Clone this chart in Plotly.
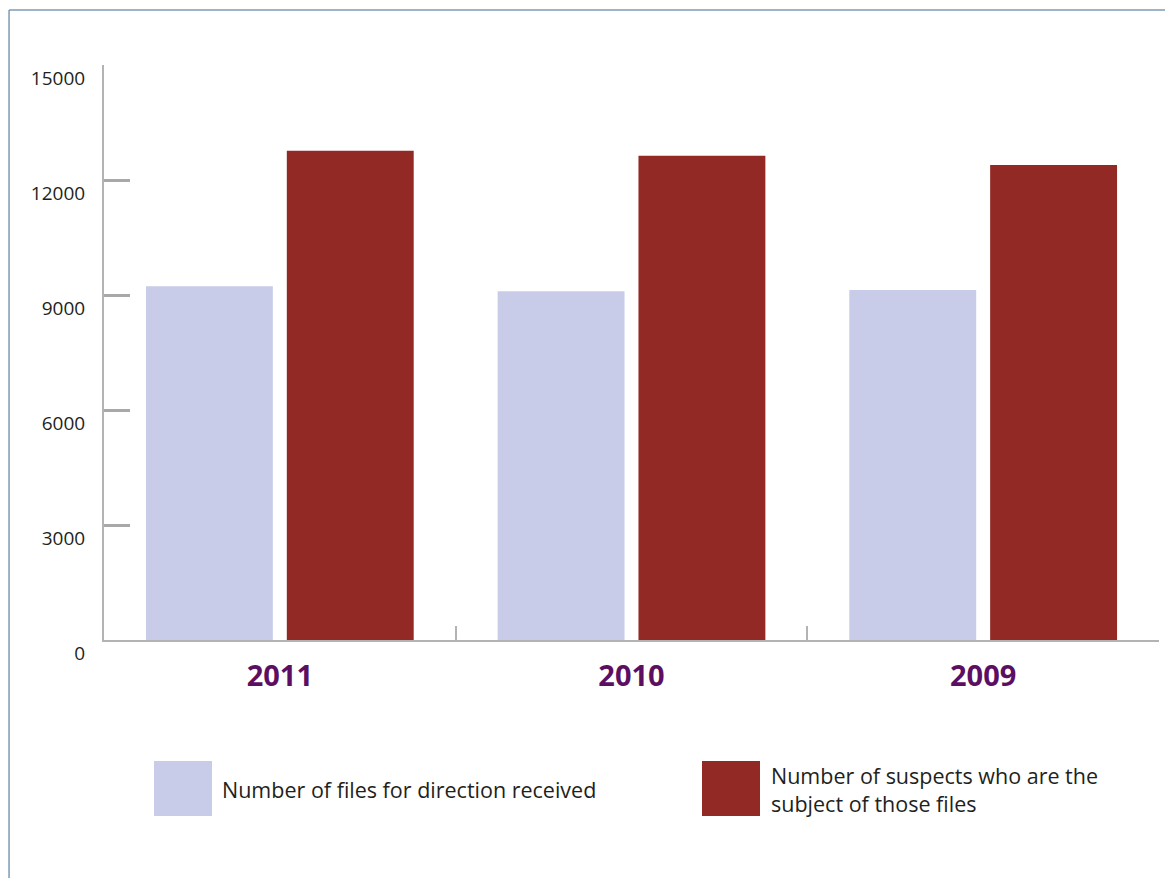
import plotly.graph_objects as go

# data
years = ["2011", "2010", "2009"]
files_received = [9230, 9100, 9130]
suspects = [12760, 12630, 12390]
series_names = [
    "Number of files for direction received",
    "Number of suspects who are the<br>subject of those files",
]
y_ticks = [0, 3000, 6000, 9000, 12000, 15000]
y_tick_text = [str(v) for v in y_ticks]

light = "#c8cce8"
red = "#932925"
purple = "#5c0f62"
axis_grey = "#b3b3b3"
frame = "#7d9bb5"
font_name = "Open Sans"

fig = go.Figure()
fig.add_trace(go.Bar(x=years, y=files_received, name=series_names[0],
                     marker=dict(color=light, line=dict(width=0))))
fig.add_trace(go.Bar(x=years, y=suspects, name=series_names[1],
                     marker=dict(color=red, line=dict(width=0))))

# the page body adds an 8px offset, margins compensate for it
fig.update_layout(
    width=1173, height=878,
    margin=dict(l=96, r=22, t=57, b=246),
    paper_bgcolor="white", plot_bgcolor="white",
    barmode="group", bargap=0.199, bargroupgap=0.099,
    showlegend=False,
    font=dict(family=font_name, color="#231f20"),
)

fig.update_xaxes(
    type="category",
    showline=True, linecolor=axis_grey, linewidth=2,
    ticks="inside", tickson="boundaries", ticklen=14, tickcolor=axis_grey, tickwidth=1.5,
    tickfont=dict(size=29, color=purple, weight="bold", family=font_name),
    ticklabelstandoff=9,
    showgrid=False, zeroline=False,
)
fig.update_yaxes(
    range=[0, 15000], tickvals=y_ticks, ticktext=y_tick_text,
    showline=True, linecolor=axis_grey, linewidth=2,
    ticks="inside", ticklen=26, tickcolor="#a8a8a8", tickwidth=2.5,
    tickfont=dict(size=19, color="#231f20", family=font_name),
    ticklabelshift=13, ticklabelstandoff=13,
    showgrid=False, zeroline=False,
)

# frame lines (top and left edge of the panel)
fig.add_shape(type="line", xref="paper", yref="paper",
              x0=-0.0900, x1=1.02, y0=1.0957, y1=1.0957,
              line=dict(color=frame, width=1.5))
fig.add_shape(type="line", xref="paper", yref="paper",
              x0=-0.0900, x1=-0.0900, y0=1.0957, y1=-0.42,
              line=dict(color=frame, width=1.5))

# custom legend: large squares with text beside them
def px_x(p):
    return (p - 104) / 1055

def px_y(p):
    return (640 - p) / 575

legend_items = [
    (154, 212, 220, light, series_names[0]),
    (702, 760, 769, red, series_names[1]),
]
for x0, x1, tx, col, label in legend_items:
    fig.add_shape(type="rect", xref="paper", yref="paper",
                  x0=px_x(x0), x1=px_x(x1), y0=px_y(816), y1=px_y(761),
                  fillcolor=col, line=dict(width=0))
    fig.add_annotation(xref="paper", yref="paper", x=px_x(tx), y=px_y(789),
                       text=label, showarrow=False, xanchor="left", yanchor="middle",
                       align="left", font=dict(size=21.5, color="#231f20", family=font_name))

fig.write_html("out.html")
